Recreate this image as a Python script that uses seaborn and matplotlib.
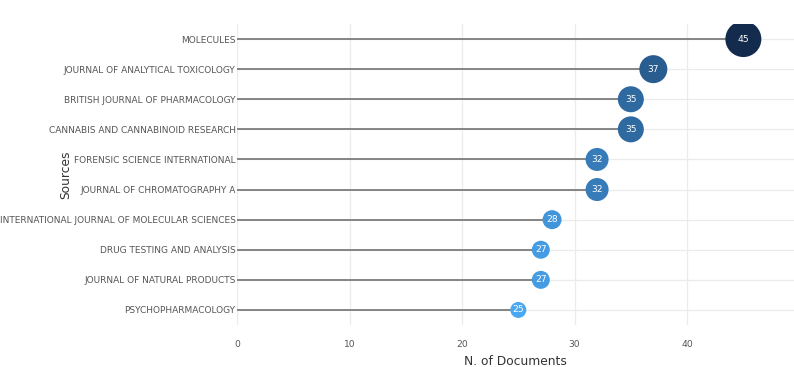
import numpy as np
import pandas as pd
import matplotlib
matplotlib.use('Agg')
import matplotlib.pyplot as plt
import seaborn as sns
from matplotlib.colors import LinearSegmentedColormap, Normalize

# data
sources = ['MOLECULES', 'JOURNAL OF ANALYTICAL TOXICOLOGY', 'BRITISH JOURNAL OF PHARMACOLOGY',
           'CANNABIS AND CANNABINOID RESEARCH', 'FORENSIC SCIENCE INTERNATIONAL',
           'JOURNAL OF CHROMATOGRAPHY A', 'INTERNATIONAL JOURNAL OF MOLECULAR SCIENCES',
           'DRUG TESTING AND ANALYSIS', 'JOURNAL OF NATURAL PRODUCTS', 'PSYCHOPHARMACOLOGY']
n_docs = [45, 37, 35, 35, 32, 32, 28, 27, 27, 25]
x_ticks = [0, 10, 20, 30, 40]

df = pd.DataFrame({'Sources': sources, 'Docs': n_docs})

sns.set_style('white')
plt.rcParams['font.family'] = ['DejaVu Sans']

fig = plt.figure(figsize=(7.94, 3.67), dpi=100)
ax = fig.add_axes([237 / 794, 1 - 325 / 367, 1 - 237 / 794, 301 / 367])

cmap = LinearSegmentedColormap.from_list('docs', ['#4aa8f2', '#132b4d'])
norm = Normalize(vmin=min(n_docs), vmax=max(n_docs))

# marker diameter grows ~1px per document
size_map = {v: ((v - 9) * 0.72) ** 2 for v in set(n_docs)}

ypos = np.arange(len(sources))
ax.hlines(ypos, 0, df['Docs'], color='#858585', lw=1.4, zorder=2)
sns.scatterplot(data=df, x='Docs', y='Sources', hue='Docs', palette=cmap, hue_norm=norm,
                size='Docs', sizes=size_map, legend=False, edgecolor='none', ax=ax, zorder=3)
for i, v in enumerate(n_docs):
    ax.text(v, i, str(v), color='white', ha='center', va='center', fontsize=6.6, zorder=4)

ax.set_xlim(0, 49.5)
ax.set_ylim(len(sources) - 0.5, -0.5)
ax.set_xticks(x_ticks)
ax.grid(True, color='#ebebeb', lw=0.9, zorder=0)
ax.set_axisbelow(True)
for s in ax.spines.values():
    s.set_visible(False)
ax.tick_params(axis='y', length=0, pad=1, labelsize=6.45, labelcolor='#555555')
ax.tick_params(axis='x', length=0, pad=11, labelsize=6.6, labelcolor='#555555')

ax.set_xlabel('N. of Documents', fontsize=8.8, color='#333333')
ax.set_ylabel('Sources', fontsize=8.8, color='#333333')
ax.xaxis.set_label_coords(0.5, -0.1)
ax.yaxis.set_label_coords(-0.296, 0.5)

fig.savefig('out.png', dpi=100)
